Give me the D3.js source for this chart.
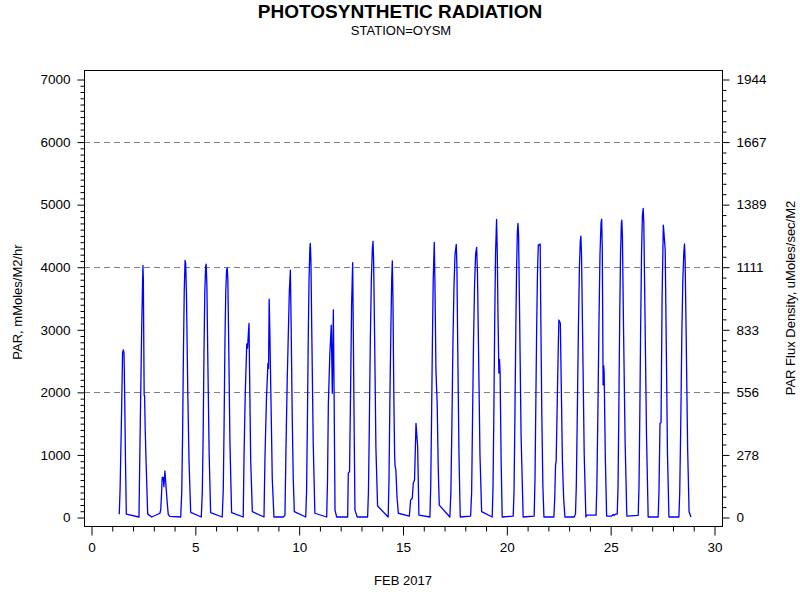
<!DOCTYPE html>
<html>
<head>
<meta charset="utf-8">
<script src="https://cdn.jsdelivr.net/npm/d3@7"></script>
<style>
  html, body { margin: 0; padding: 0; background: #fff; }
  svg { display: block; }
  text { font-family: "Liberation Sans", Arial, sans-serif; fill: #000; }
</style>
</head>
<body>
<svg id="chart" width="800" height="600"></svg>
<script>
// ---- Data (day of Feb 2017 as fractional day, PAR in mMoles/M2/hr) ----
const week1 = [
  [1.36,45],[1.40,430],[1.46,1450],[1.52,2620],[1.555,2670],[1.59,2620],[1.62,1980],[1.66,910],[1.70,45],
  [2.31,0],[2.36,1200],[2.44,3000],[2.50,4020],[2.52,3800],[2.56,1940],[2.58,1940],[2.61,1400],[2.66,800],[2.73,50],
  [2.92,0],[3.32,60],
  [3.36,120],[3.40,400],[3.43,634],[3.48,634],[3.51,484],[3.56,735],[3.61,500],[3.67,230],[3.72,40],[3.80,10],
  [4.32,0],[4.37,400],[4.41,1300],[4.45,2600],[4.49,3600],[4.53,4100],[4.56,4050],[4.60,3500],[4.66,2000],[4.72,900],[4.80,75],
  [5.31,0],[5.36,400],[5.40,1300],[5.44,2600],[5.48,3600],[5.52,4000],[5.545,4040],[5.58,3700],[5.63,2400],[5.69,1000],[5.76,70],
  [6.32,0],[6.37,450],[6.41,1500],[6.45,2800],[6.49,3600],[6.53,3950],[6.56,3980],[6.59,3800],[6.63,2800],[6.69,1200],[6.77,70],
  [7.33,0],[7.37,1000],[7.43,2000],[7.50,2765],[7.54,2700],[7.58,2950],[7.61,3095],[7.64,2200],[7.69,900],[7.77,85]
];
const week2 = [
  [8.33,0],[8.38,1000],[8.45,1900],[8.52,2455],[8.55,2375],[8.58,3480],[8.61,3000],[8.67,1800],[8.73,600],[8.81,0],
  [9.26,0],[9.34,30],[9.39,1124],[9.45,2200],[9.50,2900],[9.55,3600],[9.60,3947],[9.64,3000],[9.69,1600],[9.74,600],[9.79,85],
  [10.34,0],[10.38,400],[10.42,1500],[10.46,2800],[10.50,3800],[10.54,4300],[10.56,4373],[10.59,4100],[10.63,3000],[10.70,1200],[10.78,60],
  [11.35,0],[11.39,600],[11.43,1816],[11.50,2600],[11.57,3068],[11.62,1976],[11.67,3308],[11.71,1800],[11.75,110],[11.83,0],
  [12.36,0],[12.39,700],[12.45,725],[12.50,2000],[12.55,3400],[12.60,4064],[12.63,3000],[12.67,1500],[12.71,110],[12.82,0],
  [13.32,0],[13.36,400],[13.40,1400],[13.45,2800],[13.50,3800],[13.55,4300],[13.58,4405],[13.61,4100],[13.66,2800],[13.72,1100],[13.80,175],
  [14.31,0],[14.35,600],[14.39,1800],[14.44,3000],[14.48,3800],[14.51,4091],[14.54,3500],[14.58,2000],[14.62,1000],[14.64,830],[14.68,750],[14.74,300],[14.80,60]
];
const week3 = [
  [15.33,15],[15.39,270],[15.47,300],[15.52,540],[15.58,590],[15.65,1497],[15.69,1300],[15.73,1124],[15.79,30],
  [16.32,0],[16.36,500],[16.40,1600],[16.44,2800],[16.48,3800],[16.53,4390],[16.56,3800],[16.61,2350],[16.67,1816],[16.72,800],[16.77,190],
  [17.28,0],[17.33,400],[17.38,1500],[17.43,2800],[17.48,3700],[17.53,4200],[17.59,4357],[17.62,4000],[17.66,2700],[17.72,1000],[17.78,0],
  [18.28,15],[18.33,400],[18.37,1500],[18.42,2800],[18.47,3700],[18.52,4200],[18.57,4310],[18.61,3900],[18.66,2700],[18.73,1000],[18.81,85],
  [19.32,0],[19.36,500],[19.40,1700],[19.44,3100],[19.48,4200],[19.53,4757],[19.56,4300],[19.60,3200],[19.64,2300],[19.67,2520],[19.70,2300],[19.75,900],[19.80,0],
  [20.33,15],[20.37,400],[20.41,1500],[20.45,2800],[20.49,3900],[20.53,4550],[20.56,4693],[20.59,4500],[20.64,3200],[20.71,1300],[20.81,0],
  [21.34,15],[21.38,600],[21.42,1800],[21.46,3000],[21.50,3900],[21.54,4347],[21.59,4347],[21.63,4363],[21.66,3200],[21.71,1600],[21.76,500],[21.81,0]
];
const week4 = [
  [22.29,0],[22.33,300],[22.37,830],[22.40,900],[22.45,1800],[22.50,2700],[22.53,3148],[22.60,3095],[22.65,2000],[22.70,900],[22.76,300],[22.82,0],
  [23.27,0],[23.33,50],[23.37,500],[23.42,1700],[23.47,3000],[23.52,4000],[23.56,4400],[23.59,4490],[23.62,4200],[23.67,3000],[23.75,1000],[23.83,0],[23.87,30],
  [24.32,30],[24.36,500],[24.41,1700],[24.46,3100],[24.51,4200],[24.56,4700],[24.59,4762],[24.62,4300],[24.66,2110],[24.69,2413],[24.71,2300],[24.77,900],[24.83,15],
  [25.07,15],[25.15,40],[25.20,25],[25.25,45],[25.34,48],
  [25.38,500],[25.42,1800],[25.46,3200],[25.50,4200],[25.54,4700],[25.56,4746],[25.59,4500],[25.64,3100],[25.72,1200],[25.80,48],[25.81,15],
  [26.35,27],[26.39,500],[26.43,1700],[26.47,3100],[26.51,4200],[26.55,4800],[26.59,4933],[26.62,4700],[26.67,3400],[26.75,1300],[26.83,0],
  [27.31,0],[27.35,400],[27.40,1497],[27.45,1507],[27.50,3500],[27.56,4666],[27.60,4500],[27.65,4267],[27.70,2800],[27.76,1000],[27.83,0],
  [28.31,0],[28.35,400],[28.40,1500],[28.45,2900],[28.50,3800],[28.55,4250],[28.58,4363],[28.61,4100],[28.66,2900],[28.73,1100],[28.80,85],[28.89,0]
];

const leftTicks = [0, 1000, 2000, 3000, 4000, 5000, 6000, 7000];
const gridValues = [2000, 4000, 6000];
const rightTickLabels = ["0", "278", "556", "833", "1111", "1389", "1667", "1944"];
const xTicks = [0, 5, 10, 15, 20, 25, 30];

const titleText = "PHOTOSYNTHETIC RADIATION";
const subtitleText = "STATION=OYSM";
const xLabel = "FEB 2017";
const yLabelLeft = "PAR, mMoles/M2/hr";
const yLabelRight = "PAR Flux Density, uMoles/sec/M2";

// ---- Layout ----
const frame = { left: 84, right: 722, top: 70, bottom: 526 };
const svg = d3.select("#chart");

const x = d3.scaleLinear().domain([0, 30]).range([91, 714]);
const y = d3.scaleLinear().domain([0, 7000]).range([517, 79]);
const conv = 3.6; // mMoles/hr -> uMoles/sec
const yR = d3.scaleLinear().domain([0, 7000 / conv]).range([517, 79]);

// grid lines
svg.append("g").selectAll("line").data(gridValues).join("line")
  .attr("x1", frame.left).attr("x2", frame.right)
  .attr("y1", d => Math.round(y(d)) + 0.5).attr("y2", d => Math.round(y(d)) + 0.5)
  .attr("stroke", "#808080").attr("stroke-width", 1)
  .attr("stroke-dasharray", "6,4");

// data line
const series = week1.concat(week2, week3, week4);
const line = d3.line().x(d => x(d[0])).y(d => y(d[1]));
svg.append("path").datum(series)
  .attr("d", line)
  .attr("fill", "none")
  .attr("stroke", "#0000ff")
  .attr("stroke-width", 1.3)
  .attr("stroke-linejoin", "round");

// frame
svg.append("rect")
  .attr("x", frame.left + 0.5).attr("y", frame.top + 0.5)
  .attr("width", frame.right - frame.left).attr("height", frame.bottom - frame.top)
  .attr("fill", "none").attr("stroke", "#000").attr("stroke-width", 1);

// left axis
const leftMinor = d3.range(0, 7001, 100).filter(v => v % 1000 !== 0);
svg.append("g").attr("transform", `translate(${frame.left + 0.5},0.5)`)
  .call(d3.axisLeft(y).tickValues(leftMinor).tickSize(4).tickFormat(""))
  .call(g => g.select(".domain").remove());
svg.append("g").attr("class", "ax").attr("transform", `translate(${frame.left + 0.5},0.5)`)
  .call(d3.axisLeft(y).tickValues(leftTicks).tickSize(7).tickPadding(7).tickFormat(d3.format("d")))
  .call(g => g.select(".domain").remove());

// right axis
const rStep = 1000 / conv;
const rightMajor = leftTicks.map(v => v / conv);
const rightMinor = d3.range(0, 43).map(i => i * rStep / 6).filter((v, i) => i % 6 !== 0);
svg.append("g").attr("transform", `translate(${frame.right + 0.5},0.5)`)
  .call(d3.axisRight(yR).tickValues(rightMinor).tickSize(4).tickFormat(""))
  .call(g => g.select(".domain").remove());
svg.append("g").attr("class", "ax").attr("transform", `translate(${frame.right + 0.5},0.5)`)
  .call(d3.axisRight(yR).tickValues(rightMajor).tickSize(7).tickPadding(7)
    .tickFormat((d, i) => rightTickLabels[i]))
  .call(g => g.select(".domain").remove());

// bottom axis
const xMinor = d3.range(0, 31).filter(v => v % 5 !== 0);
svg.append("g").attr("transform", `translate(0.5,${frame.bottom + 0.5})`)
  .call(d3.axisBottom(x).tickValues(xMinor).tickSize(5).tickFormat(""))
  .call(g => g.select(".domain").remove());
svg.append("g").attr("class", "ax").attr("transform", `translate(0.5,${frame.bottom + 0.5})`)
  .call(d3.axisBottom(x).tickValues(xTicks).tickSize(9).tickPadding(7).tickFormat(d3.format("d")))
  .call(g => g.select(".domain").remove());

svg.selectAll("g.tick line").attr("stroke", "#000");
svg.selectAll(".ax text")
  .attr("font-family", '"Liberation Sans", Arial, sans-serif')
  .attr("font-size", 13.5).attr("fill", "#000");

// titles
svg.append("text").attr("x", 400).attr("y", 18).attr("text-anchor", "middle")
  .attr("font-size", 19).attr("font-weight", "bold").text(titleText);
svg.append("text").attr("x", 401).attr("y", 35).attr("text-anchor", "middle")
  .attr("font-size", 13).text(subtitleText);
svg.append("text").attr("x", 403).attr("y", 585).attr("text-anchor", "middle")
  .attr("font-size", 13).text(xLabel);
svg.append("text").attr("transform", "translate(22,302) rotate(-90)")
  .attr("text-anchor", "middle").attr("font-size", 13).text(yLabelLeft);
svg.append("text").attr("transform", "translate(795,298) rotate(-90)")
  .attr("text-anchor", "middle").attr("font-size", 13).text(yLabelRight);
</script>
</body>
</html>
